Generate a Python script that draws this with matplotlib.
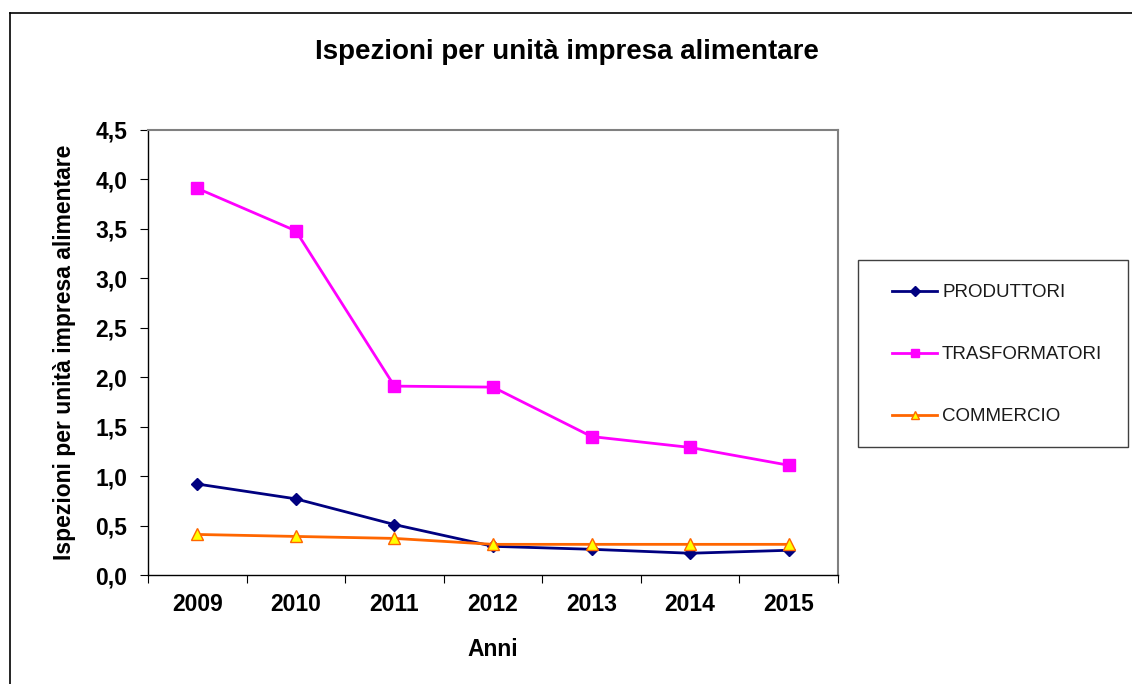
import numpy as np
import matplotlib.pyplot as plt
from matplotlib.lines import Line2D
from matplotlib.patches import Rectangle

plt.rcParams['font.family'] = ['Liberation Sans', 'DejaVu Sans']

anni = ['2009', '2010', '2011', '2012', '2013', '2014', '2015']
produttori = [0.92, 0.77, 0.51, 0.29, 0.26, 0.22, 0.25]
trasformatori = [3.91, 3.48, 1.91, 1.90, 1.40, 1.29, 1.11]
commercio = [0.41, 0.39, 0.37, 0.31, 0.31, 0.31, 0.31]
y_ticks = [0.0, 0.5, 1.0, 1.5, 2.0, 2.5, 3.0, 3.5, 4.0, 4.5]

W, H = 1132, 684
fig = plt.figure(figsize=(W / 100, H / 100), dpi=100)

# cornice esterna (solo lati sinistro e superiore visibili)
fig.add_artist(Line2D([10 / W, 10 / W], [0, 1 - 13 / H], color='black', lw=1.2))
fig.add_artist(Line2D([10 / W, 1], [1 - 13 / H, 1 - 13 / H], color='black', lw=1.2))

ax = fig.add_axes([148 / W, (H - 575) / H, 690 / W, 445 / H])
x = np.arange(len(anni))

ax.plot(x, produttori, color='#000080', lw=2, marker='D', ms=6,
        mfc='#000080', mec='#000080', label='PRODUTTORI')
ax.plot(x, trasformatori, color='#FF00FF', lw=2, marker='s', ms=8,
        mfc='#FF00FF', mec='#FF00FF', label='TRASFORMATORI')
ax.plot(x, commercio, color='#FF6600', lw=2, marker='^', ms=8,
        mfc='#FFFF00', mec='#FF6600', label='COMMERCIO')

ax.set_xlim(-0.5, len(anni) - 0.5)
ax.set_ylim(0, 4.5)
ax.set_yticks(y_ticks)
ax.set_yticklabels([f'{v:.1f}'.replace('.', ',') for v in y_ticks],
                   fontsize=16.5, fontweight='bold')

# tick principali ai bordi delle categorie, etichette al centro
ax.set_xticks(np.arange(-0.5, len(anni), 1.0))
ax.set_xticklabels([])
ax.set_xticks(x, minor=True)
ax.set_xticklabels(anni, minor=True, fontsize=16.5, fontweight='bold')
ax.tick_params(axis='x', which='minor', length=0, pad=13)
ax.tick_params(axis='x', which='major', direction='out', length=6)
ax.tick_params(axis='y', direction='out', length=6, pad=9)

for s in ['top', 'right']:
    ax.spines[s].set_color('#808080')
    ax.spines[s].set_linewidth(1.5)
for s in ['left', 'bottom']:
    ax.spines[s].set_color('black')
    ax.spines[s].set_linewidth(1)

ax.set_xlabel('Anni', fontsize=16.5, fontweight='bold', labelpad=16)
ax.set_ylabel('Ispezioni per unità impresa alimentare', fontsize=16.5,
              fontweight='bold', labelpad=14)
fig.text(567 / W, 1 - 52 / H, 'Ispezioni per unità impresa alimentare',
         ha='center', va='center', fontsize=20, fontweight='bold')

# riquadro della legenda disegnato a parte
fig.add_artist(Rectangle((858 / W, 1 - 447 / H), 270 / W, 187 / H,
                         transform=fig.transFigure, fill=False,
                         edgecolor='#404040', lw=1))
leg = fig.legend(loc='upper left', bbox_to_anchor=(892 / W, 1 - 284 / H),
                 borderaxespad=0, borderpad=0, fontsize=13.5, frameon=False,
                 labelspacing=2.4, handlelength=2.4, handletextpad=0.27,
                 markerscale=0.8)
for t in leg.get_texts():
    t.set_color('#1a1a1a')

fig.savefig('out.png', dpi=100)
